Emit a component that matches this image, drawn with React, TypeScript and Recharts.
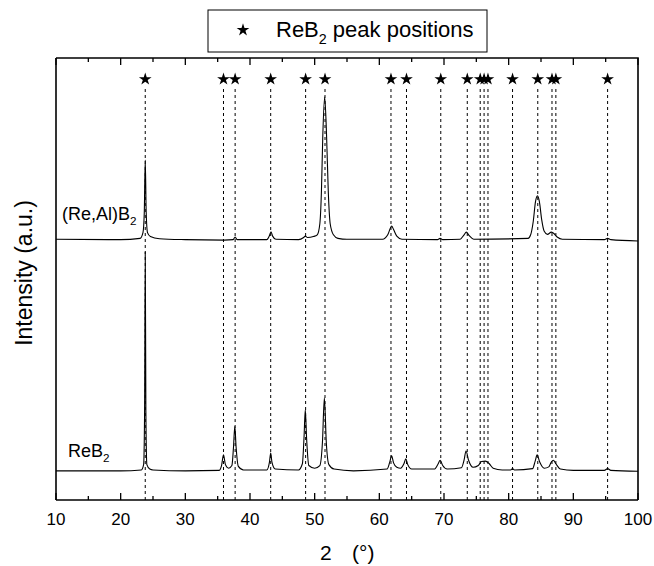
// XRD patterns of ReB2 and (Re,Al)B2 with ReB2 reference peak positions
import React from 'react';
import {
  ComposedChart,
  Line,
  Scatter,
  XAxis,
  YAxis,
  ZAxis,
  ReferenceLine,
  Symbols,
} from 'recharts';

// ReB2 reference peak positions, 2theta in degrees
const peakPositions = [
  23.8, 35.9, 37.7, 43.2, 48.6, 51.6, 61.8, 64.2, 69.5, 73.6, 75.6, 76.2, 76.8,
  80.6, 84.5, 86.7, 87.3, 95.3,
];

const xTicks = [10, 15, 20, 25, 30, 35, 40, 45, 50, 55, 60, 65, 70, 75, 80, 85, 90, 95, 100];

// [2theta, intensity (a.u.)]
const reb2Pattern: [number, number][] = [
  [10, 66], [20, 66], [23.2, 68], [23.55, 80], [23.7, 200], [23.8, 561], [23.9, 200],
  [24.05, 80], [24.5, 70], [25, 68], [30, 66], [35.2, 67], [35.6, 78], [35.9, 102],
  [36.2, 80], [36.7, 72], [37.2, 78], [37.45, 120], [37.65, 167], [37.85, 120], [38.2, 76],
  [39, 68], [42.6, 68], [43.0, 85], [43.2, 106], [43.4, 85], [43.9, 70], [47.5, 68],
  [48.1, 82], [48.35, 140], [48.55, 204], [48.75, 140], [49.1, 78], [50, 72], [50.8, 78],
  [51.2, 130], [51.5, 231], [51.8, 130], [52.2, 80], [53, 70], [56, 66], [61.2, 70],
  [61.6, 85], [61.9, 100], [62.2, 84], [62.7, 74], [63.3, 72], [63.8, 82], [64.1, 93],
  [64.4, 80], [65.0, 70], [68.5, 70], [69.1, 82], [69.4, 90], [69.8, 78], [70.5, 70],
  [72.7, 73], [73.1, 90], [73.4, 111], [73.8, 90], [74.5, 74], [75.3, 78], [75.8, 87],
  [76.4, 88], [77.0, 82], [77.6, 72], [79, 68], [80.3, 68], [80.6, 71], [80.9, 68],
  [83.7, 71], [84.1, 88], [84.4, 102], [84.8, 86], [85.5, 72], [86.2, 75], [86.6, 86],
  [86.9, 90], [87.3, 82], [88, 70], [90, 67], [94.8, 67], [95.3, 71], [95.8, 67], [100, 65],
];

const reAlB2Pattern: [number, number][] = [
  [10, 590], [20, 589], [23.0, 592], [23.45, 605], [23.65, 650], [23.8, 769], [23.95, 650],
  [24.15, 605], [24.6, 596], [26, 591], [30, 589], [36, 588], [37.4, 589], [37.7, 595],
  [38.0, 589], [42.6, 589], [43.0, 598], [43.25, 607], [43.5, 597], [44.0, 590], [47.5, 589],
  [48.3, 594], [48.55, 597], [48.9, 594], [49.8, 596], [50.4, 600], [50.8, 625], [51.05, 700],
  [51.25, 820], [51.55, 912], [51.85, 820], [52.1, 700], [52.4, 625], [52.9, 600], [53.6, 592],
  [55, 590], [60.5, 590], [61.3, 600], [61.7, 615], [61.9, 620], [62.2, 612], [62.7, 597],
  [63.5, 590], [69.0, 589], [69.4, 592], [69.8, 589], [72.5, 590], [73.1, 600], [73.45, 606],
  [73.9, 598], [74.6, 590], [83.0, 592], [83.4, 600], [83.8, 630], [84.15, 675], [84.45, 688],
  [84.75, 675], [85.1, 635], [85.5, 608], [86.0, 601], [86.6, 606], [86.9, 604], [87.5, 595],
  [88.3, 590], [94.8, 589], [95.3, 592], [95.8, 589], [100, 586],
];

const STAR_LEVEL = 952;
const DASH_TOP = 934;

// plot frame, in page pixels
const PLOT = { left: 56, top: 58, right: 638, bottom: 500 };

const toPoints = (rows: [number, number][]) => rows.map(([x, y]) => ({ x, y }));
const starData = peakPositions.map((p) => ({ x: p, y: STAR_LEVEL }));

const font = '"Liberation Sans", Arial, sans-serif';
const frame = { stroke: '#000', strokeWidth: 1.6 };

// inward ticks on the bottom axis, mirrored on the top edge of the frame
const FrameTick = (props: any) => {
  const { x, y, payload } = props;
  const major = payload.value % 10 === 0;
  const len = major ? 7 : 4;
  const top = PLOT.top;
  return (
    <g>
      <line x1={x} x2={x} y1={y} y2={y - len} stroke="#000" strokeWidth={1.3} />
      <line x1={x} x2={x} y1={top} y2={top + len} stroke="#000" strokeWidth={1.3} />
      {major && (
        <text x={x} y={y + 25} textAnchor="middle" fontSize={17} fontFamily={font} fill="#000">
          {payload.value}
        </text>
      )}
    </g>
  );
};

const Sub = ({ children, size }: { children: React.ReactNode; size: number }) => (
  <tspan dy={size * 0.3} fontSize={size * 0.65}>
    {children}
  </tspan>
);

export default function App() {
  return (
    <div style={{ position: 'absolute', left: 0, top: 0, width: 654, height: 566, background: '#fff' }}>
      <ComposedChart
        width={654}
        height={566}
        margin={{ top: PLOT.top, right: 654 - PLOT.right, bottom: 0, left: 0 }}
      >
        <XAxis
          dataKey="x"
          type="number"
          domain={[10, 100]}
          ticks={xTicks}
          interval={0}
          allowDataOverflow
          height={566 - PLOT.bottom}
          tickSize={0}
          tickMargin={0}
          tickLine={false}
          tick={<FrameTick />}
          axisLine={frame}
        />
        <YAxis
          type="number"
          domain={[0, 1000]}
          allowDataOverflow
          width={PLOT.left}
          tick={false}
          tickLine={false}
          axisLine={frame}
        />
        <ZAxis range={[50, 50]} />
        {peakPositions.map((p) => (
          <ReferenceLine
            key={p}
            segment={[{ x: p, y: 0 }, { x: p, y: DASH_TOP }]}
            stroke="#000"
            strokeWidth={1}
            strokeDasharray="3 3"
          />
        ))}
        <Line
          data={toPoints(reb2Pattern)}
          dataKey="y"
          type="monotone"
          stroke="#000"
          strokeWidth={1.1}
          dot={false}
          activeDot={false}
          isAnimationActive={false}
        />
        <Line
          data={toPoints(reAlB2Pattern)}
          dataKey="y"
          type="monotone"
          stroke="#000"
          strokeWidth={1.1}
          dot={false}
          activeDot={false}
          isAnimationActive={false}
        />
        <Scatter data={starData} dataKey="y" shape="star" fill="#000" isAnimationActive={false} />
      </ComposedChart>

      <svg
        width={654}
        height={566}
        style={{ position: 'absolute', left: 0, top: 0, pointerEvents: 'none' }}
        fontFamily={font}
        fill="#000"
      >
        {/* top and right edges of the frame */}
        <polyline
          points={`${PLOT.left},${PLOT.top} ${PLOT.right},${PLOT.top} ${PLOT.right},${PLOT.bottom}`}
          fill="none"
          stroke="#000"
          strokeWidth={1.6}
        />

        {/* legend */}
        <rect x={208} y={10} width={279} height={42} fill="#fff" stroke="#000" strokeWidth={1} />
        <Symbols type="star" size={50} cx={243} cy={30} fill="#000" />
        <text x={276} y={37} fontSize={22}>
          ReB<Sub size={22}>2</Sub>
          <tspan dy={-6.6}> peak positions</tspan>
        </text>

        {/* series labels */}
        <text x={62} y={220} fontSize={18}>
          (Re,Al)B<Sub size={18}>2</Sub>
        </text>
        <text x={68} y={457} fontSize={18}>
          ReB<Sub size={18}>2</Sub>
        </text>

        {/* axis titles */}
        <text x={320} y={560} fontSize={21}>
          2<tspan x={352}>(°)</tspan>
        </text>
        <text x={32} y={273} fontSize={23} textAnchor="middle" transform="rotate(-90, 32, 273)">
          Intensity (a.u.)
        </text>
      </svg>
    </div>
  );
}
